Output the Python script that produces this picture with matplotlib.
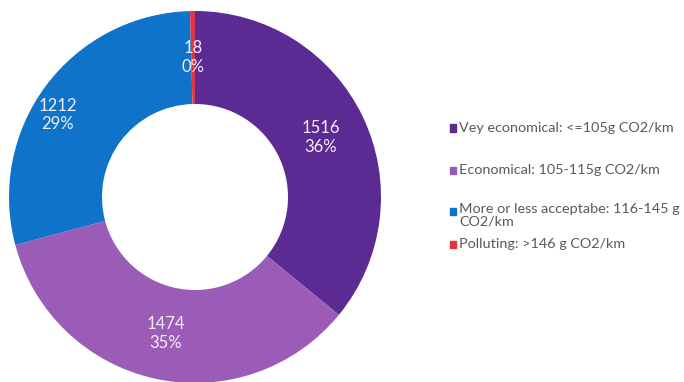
import matplotlib.pyplot as plt

# vehicle counts per emission class
categories = ["Vey economical: <=105g CO2/km",
              "Economical: 105-115g CO2/km",
              "More or less acceptabe: 116-145 g\nCO2/km",
              "Polluting: >146 g CO2/km"]
counts = [1516, 1474, 1212, 18]
colors = ["#5b2a93", "#9b5cb8", "#0f73c9", "#e2333f"]

plt.rcParams['font.family'] = ['Lato', 'DejaVu Sans']

fig = plt.figure(figsize=(6.84, 3.82), dpi=100)
W, H = 684, 382

# ring centre (195, 197) px, outer radius 186 px
cx, cy, r = 195, 197, 186
ax = fig.add_axes([(cx - r) / W, (H - cy - r) / H, 2 * r / W, 2 * r / H])

total = sum(counts)


def fmt(c):
    return "%d\n%d%%" % (c, round(c * 100.0 / total))


wedges, texts = ax.pie(counts, colors=colors, startangle=90, counterclock=False,
                       radius=1, wedgeprops=dict(width=0.5, linewidth=0),
                       labels=[fmt(c) for c in counts],
                       labeldistance=0.75,
                       textprops=dict(color="#f6eef8", fontsize=12, ha="center",
                                      va="center", linespacing=1.2))
# blue label sits a bit further out
texts[2].set_position((-0.74, 0.44))
ax.set_xlim(-1, 1)
ax.set_ylim(-1, 1)
ax.axis("off")

# legend drawn by hand for uneven row spacing
rows_y = [128, 170, 211, 244]
for lab, col, y in zip(categories, colors, rows_y):
    fig.patches.append(plt.Rectangle((450 / W, (H - y - 3.5) / H), 6 / W, 7 / H,
                                     transform=fig.transFigure, color=col))
    if "\n" in lab:
        fig.text(459 / W, (H - y + 8) / H, lab, fontsize=10.4, color="#595959",
                 va="top", ha="left", linespacing=1.05)
    else:
        fig.text(459 / W, (H - y) / H, lab, fontsize=10.4, color="#595959",
                 va="center", ha="left")

fig.savefig("out.png", dpi=100)
